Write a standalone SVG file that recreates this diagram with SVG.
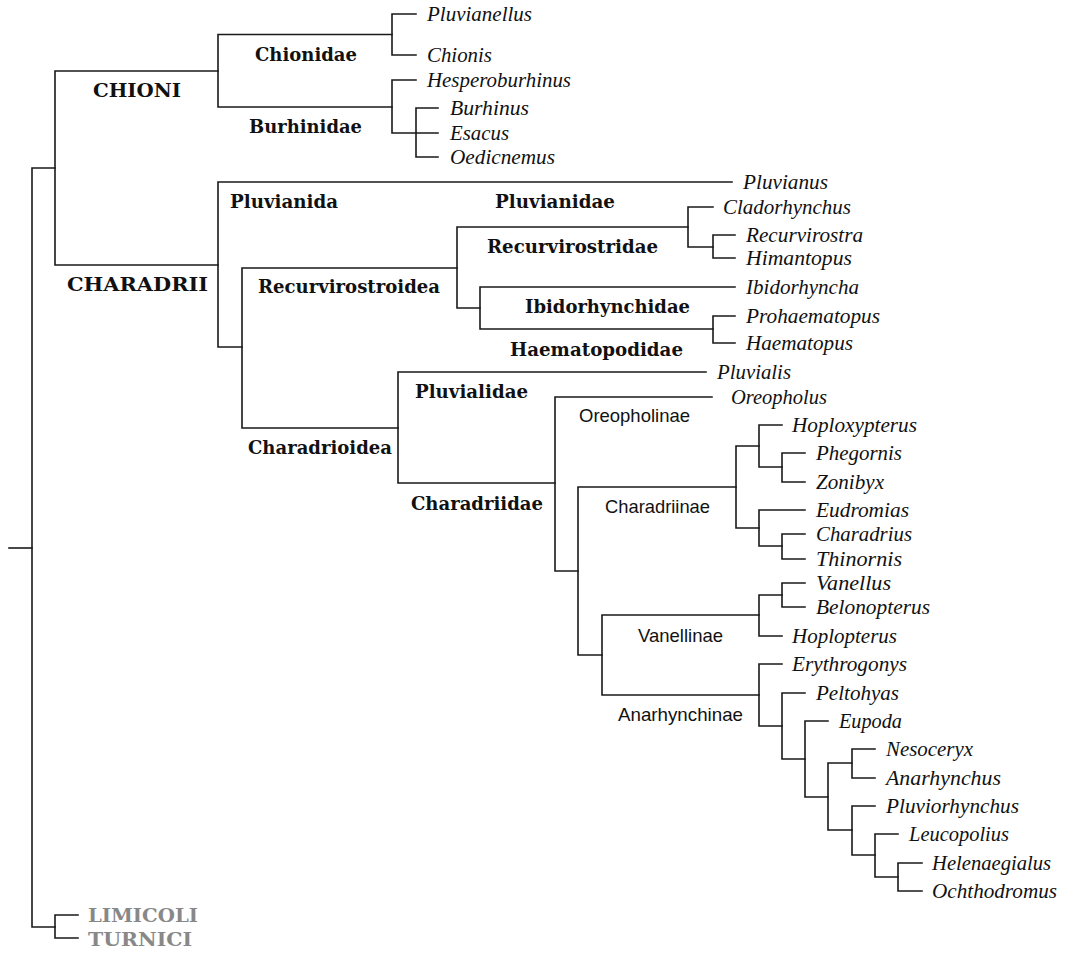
<svg xmlns="http://www.w3.org/2000/svg" width="1065" height="953" viewBox="0 0 1065 953">
<style>
.ln{fill:none;stroke:#1a1a1a;stroke-width:1.6;stroke-linecap:square;stroke-linejoin:miter}
.it{font-family:"Liberation Serif","Times New Roman",serif;font-style:italic;font-size:21px;fill:#111}
.bd{font-family:"DejaVu Serif","Liberation Serif",serif;font-weight:bold;font-size:19px;fill:#111}
.sf{font-family:"Liberation Sans",Arial,sans-serif;font-size:18.5px;fill:#111}
.gr{font-family:"DejaVu Serif","Liberation Serif",serif;font-weight:bold;font-size:19px;fill:#888}
</style>
<rect width="1065" height="953" fill="#fff"/>
<g id="connectors" class="ln">
<path d="M9,548 H32"/>
<path d="M55,168 H32 V927 H55"/>
<path d="M218,71 H55 V265 H218"/>
<path d="M392,34.5 H218 V107 H392"/>
<path d="M416,14 H392 V55 H416"/>
<path d="M416,80 H392 V133 H416"/>
<path d="M438,108 H416 V157 H438 M416,133 H438"/>
<path d="M732,182 H218 V347 H242"/>
<path d="M457,268 H242 V428 H398"/>
<path d="M688,227 H457 V308 H480"/>
<path d="M713,207 H688 V247 H713"/>
<path d="M735,235 H713 V258 H735"/>
<path d="M735,287 H480 V329 H713"/>
<path d="M735,316 H713 V343 H735"/>
<path d="M706,372 H398 V483 H555"/>
<path d="M712,397 H555 V571 H578"/>
<path d="M736,487 H578 V655 H602"/>
<path d="M759,446 H736 V528 H759"/>
<path d="M782,425 H759 V467 H782"/>
<path d="M805,453 H782 V482 H805"/>
<path d="M805,510 H759 V546 H782"/>
<path d="M805,534 H782 V559 H805"/>
<path d="M759,615 H602 V695 H759"/>
<path d="M782,595 H759 V636 H782"/>
<path d="M805,583 H782 V607 H805"/>
<path d="M782,664 H759 V726 H782"/>
<path d="M805,693 H782 V759 H805"/>
<path d="M828,721 H805 V797 H828"/>
<path d="M852,763 H828 V830 H852"/>
<path d="M875,749 H852 V778 H875"/>
<path d="M875,806 H852 V855 H875"/>
<path d="M898,834 H875 V877 H898"/>
<path d="M922,863 H898 V891 H922"/>
<path d="M78,915 H55 V938 H78"/>
</g>
<g id="CHIONI"><text class="bd" x="93" y="97" textLength="88" lengthAdjust="spacingAndGlyphs">CHIONI</text></g>
<g id="CHARADRII"><text class="bd" x="67" y="291" textLength="141" lengthAdjust="spacingAndGlyphs">CHARADRII</text></g>
<g id="Chionidae"><text class="bd" x="255" y="61" textLength="102" lengthAdjust="spacingAndGlyphs">Chionidae</text></g>
<g id="Burhinidae"><text class="bd" x="249" y="133" textLength="113" lengthAdjust="spacingAndGlyphs">Burhinidae</text></g>
<g id="Pluvianida"><text class="bd" x="230" y="208" textLength="108" lengthAdjust="spacingAndGlyphs">Pluvianida</text></g>
<g id="Pluvianidae"><text class="bd" x="495" y="208" textLength="120" lengthAdjust="spacingAndGlyphs">Pluvianidae</text></g>
<g id="Recurvirostridae"><text class="bd" x="487" y="253" textLength="171" lengthAdjust="spacingAndGlyphs">Recurvirostridae</text></g>
<g id="Recurvirostroidea"><text class="bd" x="258" y="293" textLength="182" lengthAdjust="spacingAndGlyphs">Recurvirostroidea</text></g>
<g id="Ibidorhynchidae"><text class="bd" x="525" y="313" textLength="165" lengthAdjust="spacingAndGlyphs">Ibidorhynchidae</text></g>
<g id="Haematopodidae"><text class="bd" x="510" y="356" textLength="173" lengthAdjust="spacingAndGlyphs">Haematopodidae</text></g>
<g id="Pluvialidae"><text class="bd" x="415" y="398" textLength="113" lengthAdjust="spacingAndGlyphs">Pluvialidae</text></g>
<g id="Charadrioidea"><text class="bd" x="248" y="454" textLength="144" lengthAdjust="spacingAndGlyphs">Charadrioidea</text></g>
<g id="Charadriidae"><text class="bd" x="411" y="510" textLength="132" lengthAdjust="spacingAndGlyphs">Charadriidae</text></g>
<g id="Oreopholinae"><text class="sf" x="579" y="422" textLength="111" lengthAdjust="spacingAndGlyphs">Oreopholinae</text></g>
<g id="Charadriinae"><text class="sf" x="605" y="513" textLength="105" lengthAdjust="spacingAndGlyphs">Charadriinae</text></g>
<g id="Vanellinae"><text class="sf" x="638" y="642" textLength="85" lengthAdjust="spacingAndGlyphs">Vanellinae</text></g>
<g id="Anarhynchinae"><text class="sf" x="618" y="721" textLength="125" lengthAdjust="spacingAndGlyphs">Anarhynchinae</text></g>
<g id="LIMICOLI"><text class="gr" x="88" y="922" textLength="110" lengthAdjust="spacingAndGlyphs">LIMICOLI</text></g>
<g id="TURNICI"><text class="gr" x="88" y="946" textLength="104" lengthAdjust="spacingAndGlyphs">TURNICI</text></g>
<g id="Pluvianellus"><text class="it" x="427" y="20.5" textLength="105" lengthAdjust="spacingAndGlyphs">Pluvianellus</text></g>
<g id="Chionis"><text class="it" x="427" y="61.5" textLength="65" lengthAdjust="spacingAndGlyphs">Chionis</text></g>
<g id="Hesperoburhinus"><text class="it" x="427" y="86.5" textLength="144" lengthAdjust="spacingAndGlyphs">Hesperoburhinus</text></g>
<g id="Burhinus"><text class="it" x="450" y="114.5" textLength="79" lengthAdjust="spacingAndGlyphs">Burhinus</text></g>
<g id="Esacus"><text class="it" x="450" y="139.5" textLength="59" lengthAdjust="spacingAndGlyphs">Esacus</text></g>
<g id="Oedicnemus"><text class="it" x="450" y="163.5" textLength="105" lengthAdjust="spacingAndGlyphs">Oedicnemus</text></g>
<g id="Pluvianus"><text class="it" x="743" y="188.5" textLength="85" lengthAdjust="spacingAndGlyphs">Pluvianus</text></g>
<g id="Cladorhynchus"><text class="it" x="723" y="213.5" textLength="128" lengthAdjust="spacingAndGlyphs">Cladorhynchus</text></g>
<g id="Recurvirostra"><text class="it" x="746" y="241.5" textLength="117" lengthAdjust="spacingAndGlyphs">Recurvirostra</text></g>
<g id="Himantopus"><text class="it" x="746" y="264.5" textLength="106" lengthAdjust="spacingAndGlyphs">Himantopus</text></g>
<g id="Ibidorhyncha"><text class="it" x="746" y="293.5" textLength="113" lengthAdjust="spacingAndGlyphs">Ibidorhyncha</text></g>
<g id="Prohaematopus"><text class="it" x="746" y="322.5" textLength="134" lengthAdjust="spacingAndGlyphs">Prohaematopus</text></g>
<g id="Haematopus"><text class="it" x="746" y="349.5" textLength="107" lengthAdjust="spacingAndGlyphs">Haematopus</text></g>
<g id="Pluvialis"><text class="it" x="717" y="378.5" textLength="74" lengthAdjust="spacingAndGlyphs">Pluvialis</text></g>
<g id="Oreopholus"><text class="it" x="731" y="403.5" textLength="96" lengthAdjust="spacingAndGlyphs">Oreopholus</text></g>
<g id="Hoploxypterus"><text class="it" x="792" y="431.5" textLength="125" lengthAdjust="spacingAndGlyphs">Hoploxypterus</text></g>
<g id="Phegornis"><text class="it" x="816" y="459.5" textLength="86" lengthAdjust="spacingAndGlyphs">Phegornis</text></g>
<g id="Zonibyx"><text class="it" x="816" y="488.5" textLength="68" lengthAdjust="spacingAndGlyphs">Zonibyx</text></g>
<g id="Eudromias"><text class="it" x="816" y="516.5" textLength="93" lengthAdjust="spacingAndGlyphs">Eudromias</text></g>
<g id="Charadrius"><text class="it" x="816" y="540.5" textLength="96" lengthAdjust="spacingAndGlyphs">Charadrius</text></g>
<g id="Thinornis"><text class="it" x="816" y="565.5" textLength="86" lengthAdjust="spacingAndGlyphs">Thinornis</text></g>
<g id="Vanellus"><text class="it" x="816" y="589.5" textLength="75" lengthAdjust="spacingAndGlyphs">Vanellus</text></g>
<g id="Belonopterus"><text class="it" x="816" y="613.5" textLength="114" lengthAdjust="spacingAndGlyphs">Belonopterus</text></g>
<g id="Hoplopterus"><text class="it" x="792" y="642.5" textLength="105" lengthAdjust="spacingAndGlyphs">Hoplopterus</text></g>
<g id="Erythrogonys"><text class="it" x="792" y="670.5" textLength="115" lengthAdjust="spacingAndGlyphs">Erythrogonys</text></g>
<g id="Peltohyas"><text class="it" x="816" y="699.5" textLength="83" lengthAdjust="spacingAndGlyphs">Peltohyas</text></g>
<g id="Eupoda"><text class="it" x="839" y="727.5" textLength="63" lengthAdjust="spacingAndGlyphs">Eupoda</text></g>
<g id="Nesoceryx"><text class="it" x="886" y="755.5" textLength="87" lengthAdjust="spacingAndGlyphs">Nesoceryx</text></g>
<g id="Anarhynchus"><text class="it" x="886" y="784.5" textLength="115" lengthAdjust="spacingAndGlyphs">Anarhynchus</text></g>
<g id="Pluviorhynchus"><text class="it" x="886" y="812.5" textLength="133" lengthAdjust="spacingAndGlyphs">Pluviorhynchus</text></g>
<g id="Leucopolius"><text class="it" x="909" y="840.5" textLength="100" lengthAdjust="spacingAndGlyphs">Leucopolius</text></g>
<g id="Helenaegialus"><text class="it" x="932" y="869.5" textLength="119" lengthAdjust="spacingAndGlyphs">Helenaegialus</text></g>
<g id="Ochthodromus"><text class="it" x="932" y="897.5" textLength="125" lengthAdjust="spacingAndGlyphs">Ochthodromus</text></g>
</svg>
